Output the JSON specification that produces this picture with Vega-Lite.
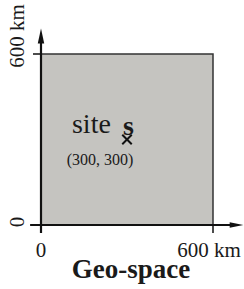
{
  "$schema": "https://vega.github.io/schema/vega-lite/v6.json",
  "width": 172,
  "height": 171,
  "padding": {"left": 41, "top": 54, "right": 31, "bottom": 64},
  "autosize": {"type": "none"},
  "background": "white",
  "config": {"view": {"stroke": null}},
  "encoding": {
    "x": {"field": "x", "type": "quantitative", "scale": {"domain": [0, 600], "nice": false, "zero": false}, "axis": null},
    "y": {"field": "y", "type": "quantitative", "scale": {"domain": [0, 600], "nice": false, "zero": false}, "axis": null}
  },
  "layer": [
    {
      "data": {"values": [{"x": 0, "y": 0, "x2": 600, "y2": 600}]},
      "mark": {"type": "rect", "fill": "#c5c4c0", "stroke": "#333333", "strokeWidth": 1.5},
      "encoding": {"x2": {"field": "x2"}, "y2": {"field": "y2"}}
    },
    {
      "data": {"values": [{"x": 0, "y": -28, "x2": 0, "y2": 650}, {"x": -38, "y": 0, "x2": 668, "y2": 0}]},
      "mark": {"type": "rule", "color": "#111111", "strokeWidth": 2.2},
      "encoding": {"x2": {"field": "x2"}, "y2": {"field": "y2"}}
    },
    {
      "data": {"values": [{"x": -28, "y": 600, "x2": 0, "y2": 600}, {"x": 600, "y": 0, "x2": 600, "y2": -28}]},
      "mark": {"type": "rule", "color": "#111111", "strokeWidth": 1.5},
      "encoding": {"x2": {"field": "x2"}, "y2": {"field": "y2"}}
    },
    {
      "data": {"values": [{"x": 0, "y": 663}]},
      "mark": {"type": "point", "shape": "M0,-1L0.43,1L-0.43,1Z", "size": 225, "filled": true, "color": "#111111", "opacity": 1},
      "encoding": {}
    },
    {
      "data": {"values": [{"x": 682, "y": 0}]},
      "mark": {"type": "point", "shape": "M1,0L-1,0.42L-1,-0.42Z", "size": 185, "filled": true, "color": "#111111", "opacity": 1},
      "encoding": {}
    },
    {
      "data": {"values": [{"x": 300, "y": 300}]},
      "mark": {"type": "point", "shape": "M-1,-1L1,1M1,-1L-1,1", "size": 90, "filled": false, "stroke": "#111111", "strokeWidth": 2, "opacity": 1},
      "encoding": {}
    },
    {
      "data": {"values": [{"x": 0, "y": -112, "label": "0"}, {"x": 586, "y": -112, "label": "600 km"}]},
      "mark": {"type": "text", "font": "Liberation Serif, Times New Roman, serif", "color": "#1a1a1a", "fontSize": 21, "align": "center", "baseline": "alphabetic"},
      "encoding": {"text": {"field": "label"}}
    },
    {
      "data": {"values": [{"x": -59, "y": 663, "label": "600 km"}, {"x": -59, "y": 10.5, "label": "0"}]},
      "mark": {"type": "text", "font": "Liberation Serif, Times New Roman, serif", "color": "#1a1a1a", "fontSize": 21, "align": "center", "baseline": "alphabetic", "angle": 270},
      "encoding": {"text": {"field": "label"}}
    },
    {
      "data": {"values": [{"x": 314, "y": -186, "label": "Geo-space"}]},
      "mark": {"type": "text", "font": "Liberation Serif, Times New Roman, serif", "color": "#1a1a1a", "fontSize": 27, "fontWeight": "bold", "align": "center", "baseline": "alphabetic"},
      "encoding": {"text": {"field": "label"}}
    },
    {
      "data": {"values": [{"x": 108, "y": 323, "label": "site"}]},
      "mark": {"type": "text", "font": "Liberation Serif, Times New Roman, serif", "color": "#1a1a1a", "fontSize": 28, "align": "left", "baseline": "alphabetic"},
      "encoding": {"text": {"field": "label"}}
    },
    {
      "data": {"values": [{"x": 286, "y": 316, "label": "s"}]},
      "mark": {"type": "text", "font": "Liberation Serif, Times New Roman, serif", "color": "#1a1a1a", "fontSize": 28, "fontWeight": "bold", "align": "left", "baseline": "alphabetic"},
      "encoding": {"text": {"field": "label"}}
    },
    {
      "data": {"values": [{"x": 206, "y": 210.5, "label": "(300, 300)"}]},
      "mark": {"type": "text", "font": "Liberation Serif, Times New Roman, serif", "color": "#1a1a1a", "fontSize": 16, "align": "center", "baseline": "alphabetic"},
      "encoding": {"text": {"field": "label"}}
    }
  ]
}
